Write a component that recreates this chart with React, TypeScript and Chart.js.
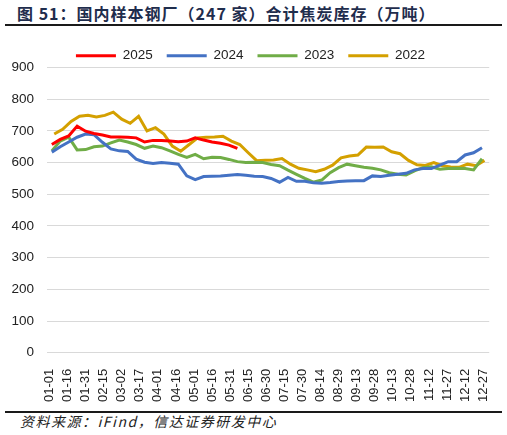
import { useEffect, useRef } from 'react';
import { Chart, registerables } from 'chart.js';

Chart.register(...registerables);

// weekly series, first point of each year falls on a slightly different day
const years = ['2025', '2024', '2023', '2022'];
const colors = ['#ff0000', '#4472c4', '#70ad47', '#d4a000'];
const startDays = [2, 2, 2, 4];

const v2025 = [657, 673, 684, 715, 699, 692, 687, 681, 681, 680, 678, 665, 670, 670, 668, 666, 668, 678, 671, 665, 661, 655, 645];
const v2024 = [
  633, 650, 665, 680, 690, 688, 664, 643, 637, 635, 611, 601, 597, 600, 598, 595, 558, 546, 556, 557,
  558, 560, 562, 560, 557, 556, 550, 538, 553, 541, 541, 536, 535, 537, 540, 542, 543, 543, 558, 556,
  560, 563, 566, 577, 581, 581, 592, 603, 603, 624, 631, 647,
];
const v2023 = [
  637, 668, 680, 640, 641, 650, 652, 662, 671, 665, 657, 645, 652, 647, 637, 626, 616, 626, 612, 617,
  616, 610, 603, 600, 601, 600, 594, 590, 576, 563, 550, 538, 545, 568, 584, 595, 590, 585, 582, 577,
  568, 563, 561, 574, 584, 587, 579, 581, 582, 581, 577, 612,
];
const v2022 = [
  690, 705, 730, 746, 749, 744, 749, 759, 737, 724, 746, 700, 710, 690, 652, 636, 657, 678, 680, 681,
  683, 668, 657, 631, 606, 607, 608, 613, 595, 582, 577, 571, 579, 592, 615, 621, 624, 649, 648, 649,
  634, 628, 607, 593, 591, 600, 590, 586, 585, 595, 590, 607,
];
const series = [v2025, v2024, v2023, v2022];

const tickLabels = [
  '01-01', '01-16', '01-31', '02-15', '03-02', '03-17', '04-01', '04-16', '05-01', '05-16', '05-31', '06-15',
  '06-30', '07-15', '07-30', '08-14', '08-29', '09-13', '09-28', '10-13', '10-28', '11-12', '11-27', '12-12', '12-27',
];

const monthDays = [31, 28, 31, 30, 31, 30, 31, 31, 30, 31, 30, 31];

const toDay = (md: string) => {
  const [m, d] = md.split('-').map(Number);
  let day = d - 1;
  for (let i = 0; i < m - 1; i++) day += monthDays[i];
  return day;
};

const tickDays = tickLabels.map(toDay);

const axisFont = { family: 'Liberation Sans, Arial, sans-serif', size: 13.5 };

// pull the plot a bit closer to the legend
const legendTrim = {
  id: 'legendTrim',
  beforeLayout(chart: any) {
    const legend = chart.legend;
    if (!legend || legend._trimmed) return;
    const fit = legend.fit.bind(legend);
    legend.fit = function () {
      fit();
      this.height -= 5;
    };
    legend._trimmed = true;
  },
};

const LineChart = () => {
  const canvasRef = useRef<HTMLCanvasElement>(null);

  useEffect(() => {
    const canvas = canvasRef.current;
    if (!canvas) return;

    const chart = new Chart(canvas, {
      type: 'line',
      data: {
        datasets: years.map((year, k) => ({
          label: year,
          data: series[k].map((y, i) => ({ x: startDays[k] + i * 7, y })),
          borderColor: colors[k],
          backgroundColor: colors[k],
          borderWidth: 3,
          pointRadius: 0,
          tension: 0,
        })),
      },
      options: {
        animation: false,
        responsive: true,
        maintainAspectRatio: false,
        layout: { padding: { left: 8, right: 14, top: 5, bottom: 0 } },
        plugins: {
          tooltip: { enabled: false },
          legend: {
            position: 'top',
            labels: {
              usePointStyle: true,
              pointStyle: 'line',
              pointStyleWidth: 40,
              padding: 14,
              color: '#222',
              font: axisFont,
            },
          },
        },
        scales: {
          x: {
            type: 'linear',
            min: -2,
            max: 365,
            afterBuildTicks: (scale) => {
              scale.ticks = tickDays.map((value) => ({ value }));
            },
            ticks: {
              autoSkip: false,
              minRotation: 90,
              maxRotation: 90,
              padding: 8,
              color: '#222',
              font: { ...axisFont, size: 13 },
              callback: (value) => tickLabels[tickDays.indexOf(Number(value))] ?? '',
            },
            grid: { display: false },
            border: { display: false },
          },
          y: {
            min: 0,
            max: 900,
            afterFit: (scale) => {
              scale.width = 39;
            },
            ticks: { stepSize: 100, padding: 13, color: '#222', font: axisFont },
            grid: { color: '#d9d9d9', lineWidth: 1, drawTicks: false },
            border: { display: false },
          },
        },
      },
      plugins: [legendTrim],
    });

    return () => chart.destroy();
  }, []);

  return (
    <div style={{ position: 'absolute', left: 0, top: 30, width: 507, height: 380 }}>
      <canvas ref={canvasRef}></canvas>
    </div>
  );
};

const App = () => {
  return (
    <div style={{ position: 'fixed', left: 0, top: 0, width: 507, height: 435, background: '#fff', overflow: 'hidden' }}>
      <div
        style={{
          position: 'absolute',
          left: 17,
          top: 2,
          fontFamily: '"Noto Sans CJK SC", sans-serif',
          fontSize: 16,
          fontWeight: 'bold',
          letterSpacing: 1,
          color: '#1f2d4d',
          whiteSpace: 'nowrap',
          lineHeight: '22px',
        }}
      >
        图 51：国内样本钢厂（247 家）合计焦炭库存（万吨）
      </div>
      <div style={{ position: 'absolute', left: 5, top: 24, width: 497, height: 2, background: '#1a1a1a' }} />
      <LineChart />
      <div style={{ position: 'absolute', left: 5, top: 411, width: 497, height: 2, background: '#1a1a1a' }} />
      <div
        style={{
          position: 'absolute',
          left: 20,
          top: 412,
          fontFamily: '"Noto Sans CJK SC", sans-serif',
          fontSize: 14,
          fontStyle: 'italic',
          letterSpacing: 1.5,
          color: '#222',
          whiteSpace: 'nowrap',
          lineHeight: '18px',
        }}
      >
        资料来源：iFind，信达证券研发中心
      </div>
    </div>
  );
};

export default App;
